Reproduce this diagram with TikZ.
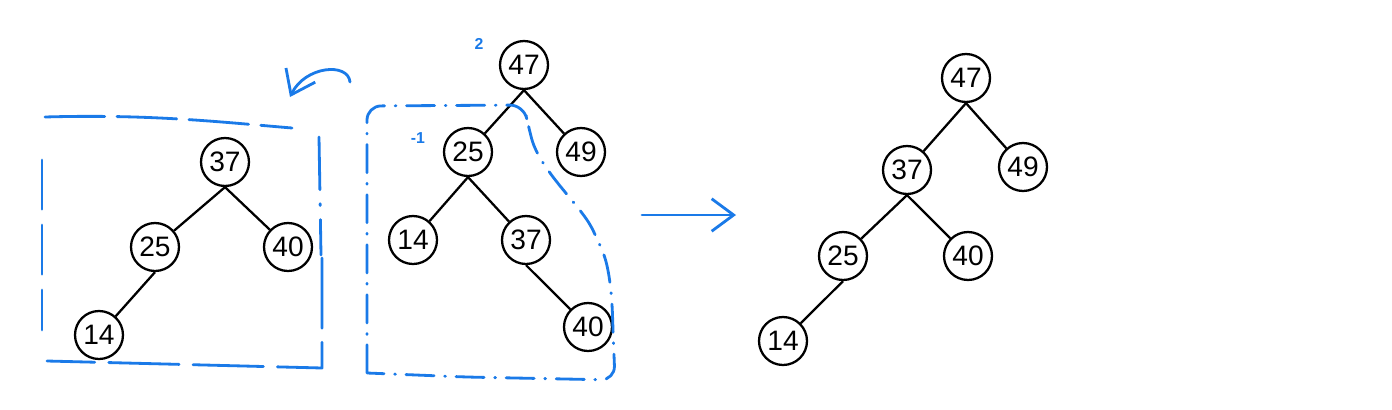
\documentclass[tikz,border=0pt]{standalone}
\usepackage{fontspec}
\setmainfont{Liberation Sans}
\usetikzlibrary{arrows.meta}
\definecolor{pen}{RGB}{26,122,232}

\begin{document}
\begin{tikzpicture}[x=0.02cm, y=-0.02cm,
  key/.style={draw, circle, line width=1.3pt, minimum size=0.96cm,
    inner sep=0pt, font=\fontsize{16}{18}\selectfont},
  edge/.style={line width=1.3pt},
  scribble/.style={draw=pen, line width=1.6pt, line cap=round, line join=round},
  arrow/.style={scribble, -{Straight Barb[length=4.4mm, width=6.5mm]}},
  note/.style={text=pen, font=\fontsize{9}{10}\selectfont\bfseries}
]
\useasboundingbox (0,0) rectangle (1392,409);

% Linker Teilbaum
\node[key] (l37) at (225,162) {37};
\node[key] (l25) at (155,247) {25};
\node[key] (l40) at (288,247) {40};
\node[key] (l14) at (99,335) {14};
\draw[edge] (l37.south) -- (l25);
\draw[edge] (l37.south) -- (l40);
\draw[edge] (l25.south) -- (l14);

% Mittlerer Baum (vor der Rotation)
\node[key] (m47) at (524,65) {47};
\node[key] (m25) at (468,152) {25};
\node[key] (m49) at (581,152) {49};
\node[key] (m14) at (413,240) {14};
\node[key] (m37) at (526,240) {37};
\node[key] (m40) at (588,327) {40};
\draw[edge] (m47.south) -- (m25);
\draw[edge] (m47.south) -- (m49);
\draw[edge] (m25.south) -- (m14);
\draw[edge] (m25.south) -- (m37);
\draw[edge] (m37.south) -- (m40);

\node[note] (bal2) at (479,44) {2};
\node[note] (bal1) at (418,138) {-1};

% Rechter Baum (nach der Rotation)
\node[key] (r47) at (966,78) {47};
\node[key] (r37) at (907,170) {37};
\node[key] (r49) at (1023,167) {49};
\node[key] (r25) at (843,256) {25};
\node[key] (r40) at (968,256) {40};
\node[key] (r14) at (783,341) {14};
\draw[edge] (r47.south) -- (r37);
\draw[edge] (r47.south) -- (r49);
\draw[edge] (r37.south) -- (r25);
\draw[edge] (r37.south) -- (r40);
\draw[edge] (r25.south) -- (r14);

% Markierungen von Hand
\draw[scribble, dash pattern=on 34pt off 7pt]
  (45,117) .. controls (150,114) and (220,122) .. (292,128);
\draw[scribble, dash pattern=on 30pt off 8pt on 1pt off 8pt]
  (319,137) -- (321,255);
\draw[scribble, dash pattern=on 40pt off 8pt]
  (322,258) -- (322,368) -- (47,361);
\draw[scribble, dash pattern=on 28pt off 9pt]
  (42,160) -- (42,330);

\draw[scribble, rounded corners=8pt, dash pattern=on 16pt off 6pt on 0.5pt off 6pt]
  (367,373) -- (367,106) -- (524,105) -- (528,125)
  .. controls (540,170) and (580,205) .. (598,240)
  .. controls (610,270) and (612,300) .. (613,330)
  -- (615,380) -- (465,377) -- (367,373);

\coordinate (rotFrom) at (350,82);
\coordinate (rotTo) at (290,97);
\draw[arrow] (rotFrom) .. controls (348,62) and (305,66) .. (rotTo);

\coordinate (stepFrom) at (642,215);
\coordinate (stepTo) at (736,215);
\draw[arrow] (stepFrom) -- (stepTo);

\end{tikzpicture}
\end{document}
